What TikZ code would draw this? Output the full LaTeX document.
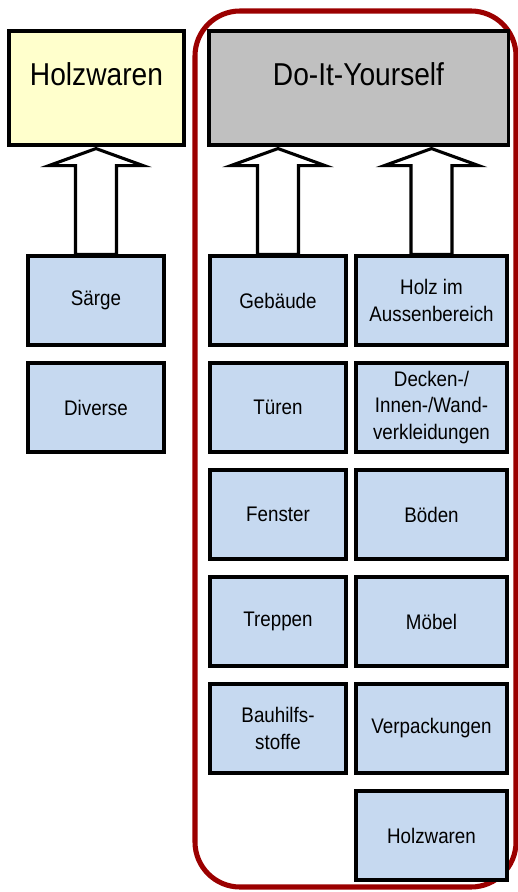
\documentclass[tikz,border=0pt]{standalone}
\usepackage{fontspec}
\setmainfont{Liberation Sans}[FakeStretch=0.89]
\usepackage{xcolor}
\usepackage{tikz}
\usetikzlibrary{calc}

\definecolor{boxblue}{RGB}{198,217,240}
\definecolor{hwyellow}{RGB}{255,255,204}
\definecolor{diygray}{RGB}{192,192,192}
\definecolor{framered}{RGB}{155,0,0}

\newcommand{\hollowarrow}[2]{%
  \draw[hollow] let \p1=(#1.north), \p2=(#2.south) in
    (\x1-0.5125cm,\y1) -- (\x1-0.5125cm,\y2-0.475cm) -- (\x1-1.175cm,\y2-0.475cm)
    -- (\x1,\y2-0.05cm) -- (\x1+1.175cm,\y2-0.475cm) -- (\x1+0.5125cm,\y2-0.475cm)
    -- (\x1+0.5125cm,\y1) -- cycle;}

\begin{document}
\begin{tikzpicture}[x=0.025cm, y=-0.025cm,
  box/.style={draw, line width=2.2pt, fill=boxblue, minimum width=3.4cm,
    minimum height=2.225cm, align=center, font=\fontsize{15}{19}\selectfont},
  boxwide/.style={box, minimum width=3.775cm},
  head/.style={draw, line width=2.2pt, minimum height=2.85cm,
    text height=0.4cm, text depth=0.5cm, font=\fontsize{22.5}{27}\selectfont},
  hollow/.style={draw, line width=2.2pt, fill=white, line join=miter},
  frame/.style={draw=framered, line width=3.6pt, rounded corners=1.125cm}]
  \useasboundingbox (0,0) rectangle (518,892);
  % Frame
  \draw[frame] (195,11) rectangle (516,887);
  % Headers
  \node[head, fill=hwyellow, minimum width=4.375cm] (hw) at (96.5,88) {Holzwaren};
  \node[head, fill=diygray, minimum width=7.475cm] (diy) at (358.5,88) {Do-It-Yourself};
  % Holzwaren column
  \node[box] (saerge) at (96,300.5) {Särge};
  \node[box] (diverse) at (96,407.5) {Diverse};
  % DIY left column
  \node[box] (gebaeude) at (278,300.5) {Gebäude};
  \node[box] (tueren) at (278,407.5) {Türen};
  \node[box] (fenster) at (278,514.5) {Fenster};
  \node[box] (treppen) at (278,621.5) {Treppen};
  \node[box] (bauhilf) at (278,728.5) {Bauhilfs-\\stoffe};
  % DIY right column
  \node[boxwide] (aussen) at (431.5,300.5) {Holz im\\Aussenbereich};
  \node[boxwide] (decken) at (431.5,407.5) {Decken-/\\Innen-/Wand-\\verkleidungen};
  \node[boxwide] (boeden) at (431.5,514.5) {Böden};
  \node[boxwide] (moebel) at (431.5,621.5) {Möbel};
  \node[boxwide] (verpack) at (431.5,728.5) {Verpackungen};
  \node[boxwide] (holzw) at (431.5,835.5) {Holzwaren};
  % Arrows
  \hollowarrow{saerge}{hw}
  \hollowarrow{gebaeude}{diy}
  \hollowarrow{aussen}{diy}
\end{tikzpicture}
\end{document}
